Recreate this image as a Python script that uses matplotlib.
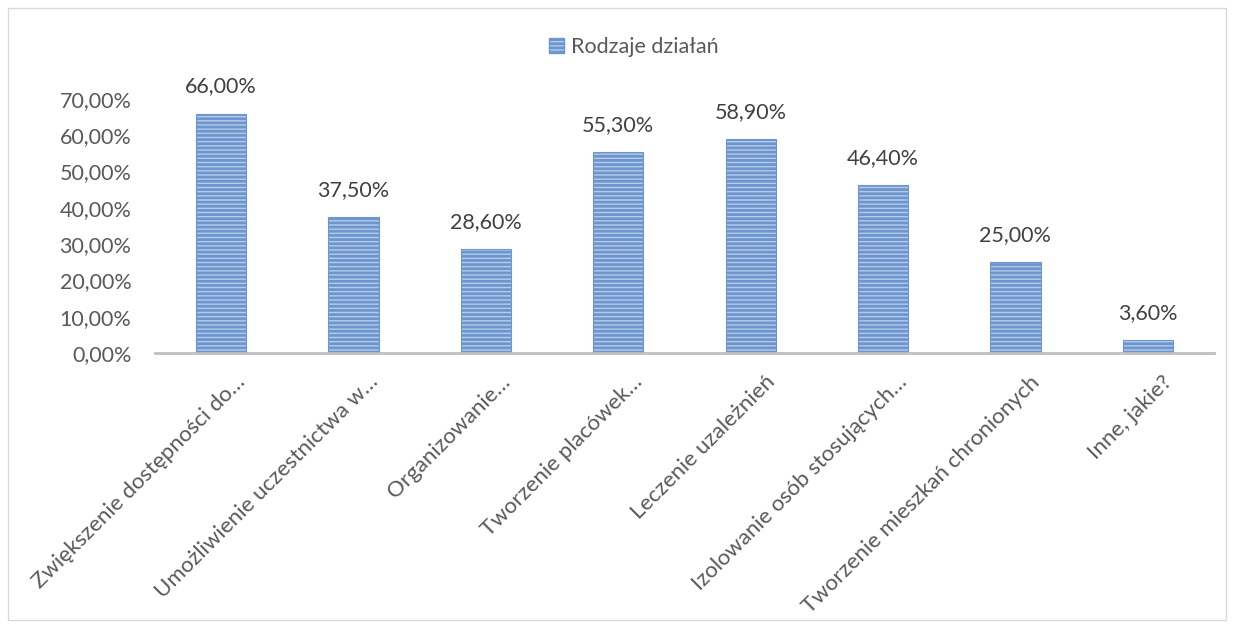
import matplotlib.pyplot as plt
import matplotlib.patches as mpatches
import matplotlib.transforms as mtransforms
from matplotlib.ticker import FuncFormatter
import numpy as np

categories = ["Zwiększenie dostępności do…", "Umożliwienie uczestnictwa w…", "Organizowanie…",
              "Tworzenie placówek…", "Leczenie uzależnień", "Izolowanie osób stosujących…",
              "Tworzenie mieszkań chronionych", "Inne, jakie?"]
values = [66.0, 37.5, 28.6, 55.3, 58.9, 46.4, 25.0, 3.6]
series_name = "Rodzaje działań"

plt.rcParams['font.family'] = ['Lato', 'DejaVu Sans']
plt.rcParams['hatch.linewidth'] = 2.0
plt.rcParams['hatch.color'] = '#4a7ebf'

fig = plt.figure(figsize=(12.34, 6.28), dpi=100)
ax = fig.add_axes([155/1234, 1 - 353/628, (1214-155)/1234, (353-99)/628 * 80/70])

x = np.arange(len(categories))
bars = ax.bar(x, values, width=0.38, color='#b7cbe8', edgecolor='#6d96cf', linewidth=0.8,
              hatch='----', label=series_name)
for b, v in zip(bars, values):
    ax.annotate(f"{v:.2f}%".replace('.', ','), (b.get_x() + b.get_width()/2, v),
                xytext=(0, 27), textcoords='offset pixels',
                ha='center', va='center', fontsize=15.5, color='#404040')

ax.set_xlim(-0.5, len(categories) - 0.5)
ax.set_ylim(0, 80)
ax.set_yticks(np.arange(0, 71, 10))
ax.yaxis.set_major_formatter(FuncFormatter(lambda v, p: f"{v:.2f}%".replace('.', ',')))
ax.tick_params(axis='y', length=0, labelsize=15.5, labelcolor='#595959', pad=17)
ax.set_xticks(x)
ax.set_xticklabels(categories, rotation=45, ha='right', va='top', rotation_mode='anchor',
                   fontsize=16, color='#595959')
ax.tick_params(axis='x', length=0, pad=10)
offset = mtransforms.ScaledTranslation(14/100, -5/100, fig.dpi_scale_trans)
for lab in ax.get_xticklabels():
    lab.set_transform(lab.get_transform() + offset)
for s in ['top', 'right', 'left']:
    ax.spines[s].set_visible(False)
ax.spines['bottom'].set_color('#bfbfbf')
ax.spines['bottom'].set_linewidth(2)

handle = mpatches.Patch(facecolor='#b7cbe8', edgecolor='#6d96cf', hatch='----')
fig.legend([handle], [series_name], loc='center', bbox_to_anchor=(634/1234, 1 - 47/628),
           frameon=False, fontsize=15.5, labelcolor='#595959', handlelength=0.7,
           handleheight=0.7, handletextpad=0.3)

fig.patches.append(mpatches.Rectangle((8/1234, 8/628), 1 - 16/1234, 1 - 16/628,
                                      transform=fig.transFigure, fill=False,
                                      edgecolor='#d9d9d9', linewidth=1))

fig.savefig('out.png', dpi=100, facecolor='white')
